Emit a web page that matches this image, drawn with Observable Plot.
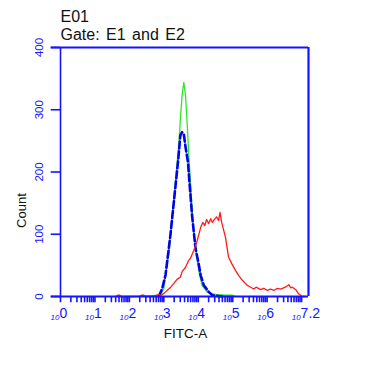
<!DOCTYPE html>
<html>
<head>
<meta charset="utf-8">
<script src="https://cdn.jsdelivr.net/npm/d3@7"></script>
<script src="https://cdn.jsdelivr.net/npm/@observablehq/plot@0.6"></script>
<style>
  html, body { margin: 0; padding: 0; background: #fff; }
  #chart svg { display: block; }
</style>
</head>
<body>
<div id="chart"></div>
<script>
// x values are log10(FITC-A) in decades; y values are event counts
const titleLines = ["E01", "Gate: E1 and E2"];
const xLabel = "FITC-A";
const yLabel = "Count";
const yTicks = [0, 100, 200, 300, 400];
const xDecades = [0, 1, 2, 3, 4, 5, 6, 7];
const xExponents = ["0", "1", "2", "3", "4", "5", "6", "7.2"];

const greenX = [2.30, 2.60, 2.85, 2.90, 3.00, 3.05, 3.15, 3.21, 3.29, 3.37, 3.44, 3.48, 3.53, 3.58, 3.63, 3.68, 3.73, 3.78, 3.82, 3.87, 3.95, 4.02, 4.11, 4.26, 4.41, 4.55, 4.80, 5.00, 5.10];
const greenY = [1, 1, 2, 3, 12, 34, 71, 114, 157, 205, 248, 285, 323, 344, 323, 275, 221, 178, 141, 103, 66, 39, 18, 7, 4, 3, 2, 2, 0];

const blueX = [2.85, 2.95, 3.05, 3.19, 3.34, 3.42, 3.48, 3.53, 3.58, 3.63, 3.70, 3.76, 3.82, 3.92, 4.02, 4.07, 4.16, 4.31, 4.41, 4.55, 4.70];
const blueY = [0, 12, 35, 98, 178, 221, 259, 264, 261, 240, 216, 172, 130, 77, 50, 34, 18, 7, 2, 1, 0];

const redX = [1.60, 1.66, 1.72, 1.78, 2.30, 2.35, 2.42, 2.48, 2.70, 2.78, 2.85, 2.92, 3.00, 3.10, 3.20, 3.29, 3.39, 3.48, 3.53, 3.63, 3.72, 3.77, 3.87, 3.97, 4.07, 4.13, 4.19, 4.24, 4.30, 4.36, 4.41, 4.47, 4.53, 4.59, 4.63, 4.68, 4.79, 4.88, 4.98, 5.08, 5.17, 5.28, 5.42, 5.61, 5.68, 5.81, 5.90, 6.00, 6.10, 6.20, 6.30, 6.39, 6.53, 6.63, 6.68, 6.73, 6.83, 6.92, 7.02, 7.10];
const redY = [0, 2, 2, 0, 0, 2, 2, 0, 0, 2, 3, 2, 5, 10, 15, 21, 28, 31, 40, 47, 58, 61, 74, 90, 111, 119, 114, 124, 117, 125, 119, 124, 128, 122, 135, 119, 95, 63, 52, 42, 34, 26, 18, 12, 15, 11, 13, 10, 12, 10, 13, 12, 15, 19, 14, 15, 11, 4, 0, 0];

const AX = "#1414ff";
const green = greenX.map((x, i) => ({x, y: greenY[i]}));
const blue = blueX.map((x, i) => ({x, y: blueY[i]}));
const red = redX.map((x, i) => ({x, y: redY[i]}));

const minorTicks = [];
for (const d of [0, 1, 2, 3, 4, 5, 6]) for (let k = 1; k <= 9; k++) minorTicks.push(d + Math.log10(k));
minorTicks.push(7);

const font = "'Liberation Sans', Arial, sans-serif";

const chart = Plot.plot({
  width: 369,
  height: 384,
  marginLeft: 60,
  marginRight: 61,
  marginTop: 47,
  marginBottom: 88,
  style: {fontFamily: font, background: "#fff", overflow: "visible"},
  x: {domain: [0, 7.2], axis: null},
  y: {domain: [0, 400], axis: null},
  marks: [
    Plot.line(green, {x: "x", y: "y", stroke: "#2ee62e", strokeWidth: 1.3}),
    Plot.line(blue, {x: "x", y: "y", stroke: "#0000ee", strokeWidth: 2.6, strokeDasharray: "7,3"}),
    Plot.line(red, {x: "x", y: "y", stroke: "#ff1a1a", strokeWidth: 1.3}),
    // axes and frame
    Plot.ruleY([0], {x1: -0.27, x2: 7.2, stroke: AX, strokeWidth: 1.8}),
    Plot.ruleX([0], {y1: 0, y2: 400, stroke: AX, strokeWidth: 1.6}),
    Plot.ruleY([400], {x1: -0.27, x2: 7.2, stroke: AX, strokeWidth: 2}),
    Plot.ruleX([7.2], {y1: 0, y2: 400, stroke: AX, strokeWidth: 2.2}),
    Plot.ruleY(yTicks, {x1: -0.27, x2: 0, stroke: AX, strokeWidth: 1.6}),
    Plot.ruleX(minorTicks, {y1: 0, y2: -10, stroke: AX, strokeWidth: 1.6}),
    // y tick labels
    Plot.text(yTicks, {y: d => d, text: d => String(d), frameAnchor: "left", dx: -21, rotate: -90,
      textAnchor: "middle", lineAnchor: "middle", fill: AX, fontSize: 11.5}),
    // x tick labels: small "10" + exponent
    Plot.text(xDecades, {x: d => d, y: 0, text: () => "10", dx: -1, dy: 23, textAnchor: "end",
      lineAnchor: "bottom", fill: AX, fontSize: 8, fontStyle: "italic"}),
    Plot.text(xDecades, {x: d => d, y: 0, text: (d, i) => xExponents[i], dx: -1, dy: 21, textAnchor: "start",
      lineAnchor: "bottom", fill: AX, fontSize: 14}),
    // axis titles
    Plot.text([xLabel], {x: 3.63, y: 0, text: d => d, dy: 41, lineAnchor: "bottom", fill: "#111",
      fontSize: 13.5, textAnchor: "middle"}),
    Plot.text([yLabel], {y: 138, text: d => d, frameAnchor: "left", dx: -39, rotate: -90,
      lineAnchor: "middle", fill: "#111", fontSize: 13, textAnchor: "middle"}),
    // title lines
    Plot.text([titleLines[0]], {frameAnchor: "top-left", text: d => d, dy: -26, textAnchor: "start",
      lineAnchor: "bottom", fill: "#111", fontSize: 16}),
    Plot.text([titleLines[1]], {frameAnchor: "top-left", text: d => d, dy: -8, textAnchor: "start",
      lineAnchor: "bottom", fill: "#111", fontSize: 16, className: "gate"})
  ]
});
d3.select(chart).selectAll(".gate text").style("word-spacing", "2px");
document.getElementById("chart").appendChild(chart);
</script>
</body>
</html>
